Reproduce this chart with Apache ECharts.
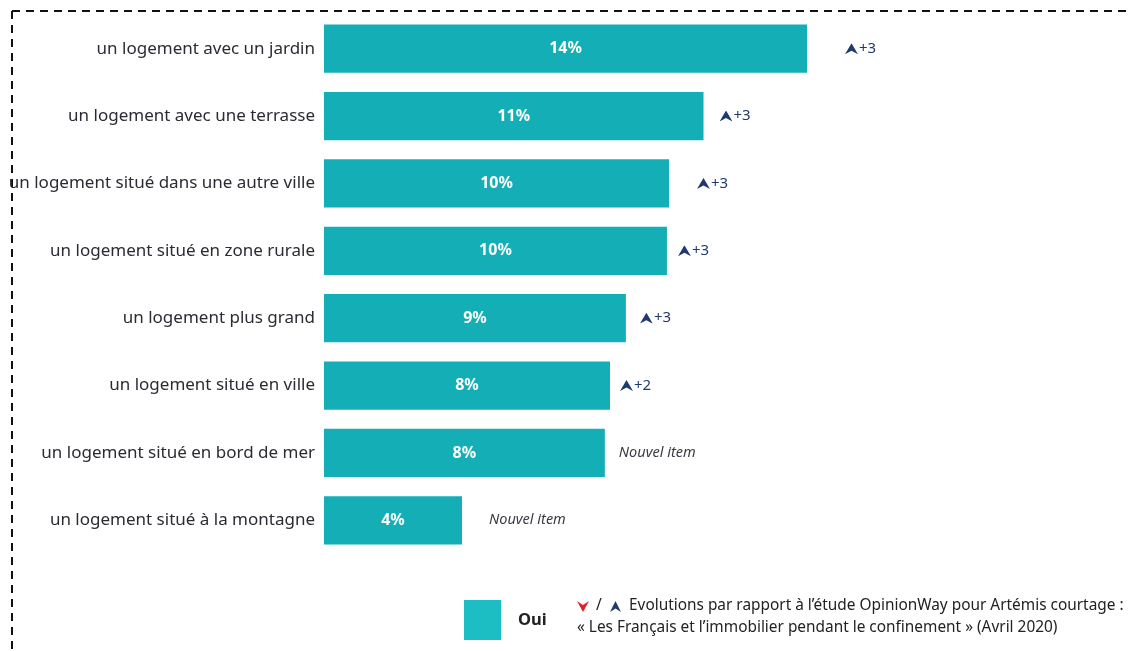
<!DOCTYPE html>
<html>
<head>
<meta charset="utf-8">
<script src="https://cdn.jsdelivr.net/npm/echarts@6/dist/echarts.min.js"></script>
<style>
  html, body { margin: 0; padding: 0; background: #fff; }
  #chart { width: 1128px; height: 651px; }
</style>
</head>
<body>
<div id="chart"></div>
<script>
var categories = [
    'un logement avec un jardin',
    'un logement avec une terrasse',
    'un logement situé dans une autre ville',
    'un logement situé en zone rurale',
    'un logement plus grand',
    'un logement situé en ville',
    'un logement situé en bord de mer',
    'un logement situé à la montagne'
];
var values = [14.0, 11.0, 10.0, 9.94, 8.75, 8.29, 8.14, 4.0];   // longueur des barres
var valueLabels = ['14%', '11%', '10%', '10%', '9%', '8%', '8%', '4%'];
var evolutions = ['+3', '+3', '+3', '+3', '+3', '+2', null, null]; // null = Nouvel item

// décalage des annotations à droite des barres (px)
var evoGap = [33, 11, 23, 6, 9, 5, 9, 22];

var navy = '#1f3a6e';
var teal = '#14aeb6';

function svgUri(path, color, w, h) {
    return 'data:image/svg+xml;charset=utf-8,' + encodeURIComponent(
        '<svg xmlns="http://www.w3.org/2000/svg" width="' + w + '" height="' + h + '" viewBox="0 0 ' + w + ' ' + h + '">' +
        '<path d="' + path + '" fill="' + color + '"/></svg>');
}
var upArrow = svgUri('M6.5 0 L13 11 L6.5 7.5 L0 11 Z', navy, 13, 11);

var chart = echarts.init(document.getElementById('chart'));

chart.setOption({
    animation: false,
    textStyle: { fontFamily: 'Noto Sans' },
    grid: { left: 324, top: 15, width: 690, height: 539 },
    xAxis: { type: 'value', min: 0, max: 20, show: false },
    yAxis: {
        type: 'category',
        inverse: true,
        data: categories,
        axisLine: { show: false },
        axisTick: { show: false },
        axisLabel: { color: '#2b2b33', fontSize: 17, margin: 9 }
    },
    legend: {
        left: 459, top: 595,
        itemWidth: 37, itemHeight: 40,
        icon: 'rect',
        data: [{ name: 'Oui', itemStyle: { color: '#1dbdc4' } }],
        textStyle: { fontSize: 16.5, fontWeight: 'bold', color: '#222', padding: [0, 0, 0, 12] }
    },
    series: [
        {
            name: 'Oui',
            type: 'bar',
            data: values,
            barCategoryGap: '28.5%',
            itemStyle: { color: teal },
            label: {
                show: true,
                position: 'inside',
                color: '#fff',
                fontWeight: 'bold',
                fontSize: 16,
                formatter: function (p) { return valueLabels[p.dataIndex]; }
            }
        },
        {
            name: 'evo',
            type: 'bar',
            barGap: '-100%',
            barCategoryGap: '28.5%',
            silent: true,
            itemStyle: { color: 'rgba(0,0,0,0)' },
            data: values.map(function (v, i) {
                return { value: v, label: { offset: [evoGap[i], 0] } };
            }),
            label: {
                show: true,
                position: 'right',
                formatter: function (p) {
                    var e = evolutions[p.dataIndex];
                    return e === null ? '{ni|Nouvel item}' : '{ar|}{ev|' + e + '}';
                },
                rich: {
                    ar: { width: 13, height: 11, backgroundColor: { image: upArrow } },
                    ev: { color: navy, fontSize: 15, padding: [0, 0, 0, 1] },
                    ni: { color: '#3a3a44', fontSize: 14.5, fontStyle: 'italic' }
                }
            }
        }
    ],
    graphic: [
        // cadre pointillé
        { type: 'line', shape: { x1: 12, y1: 11, x2: 1128, y2: 11 },
          style: { stroke: '#111', lineWidth: 2, lineDash: [8, 6] } },
        { type: 'line', shape: { x1: 12, y1: 11, x2: 12, y2: 651 },
          style: { stroke: '#111', lineWidth: 2, lineDash: [8, 6] } },
        // légende des évolutions
        { type: 'polygon', shape: { points: [[577, 601], [583, 605], [589, 601], [583, 612]] },
          style: { fill: '#e3202a' } },
        { type: 'text', left: 596, top: 598,
          style: { text: '/', fontSize: 15.4, fill: '#222', fontFamily: 'Noto Sans' } },
        { type: 'polygon', shape: { points: [[610, 612], [615.5, 601], [621, 612], [615.5, 608.5]] },
          style: { fill: navy } },
        { type: 'text', left: 629, top: 598,
          style: { text: 'Evolutions par rapport à l’étude OpinionWay pour Artémis courtage :',
                   fontSize: 15.4, fill: '#222', fontFamily: 'Noto Sans' } },
        { type: 'text', left: 577, top: 620,
          style: { text: '« Les Français et l’immobilier pendant le confinement » (Avril 2020)',
                   fontSize: 15.4, fill: '#222', fontFamily: 'Noto Sans' } }
    ]
});
</script>
</body>
</html>
